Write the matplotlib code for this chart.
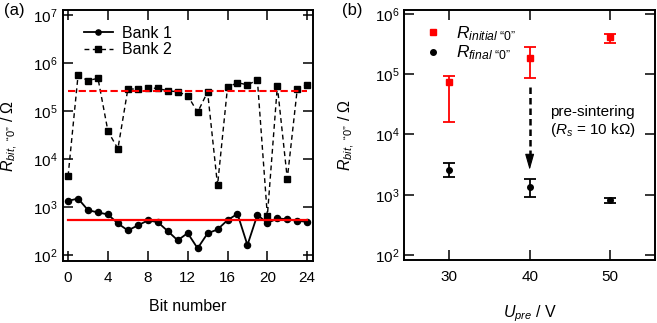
import matplotlib
matplotlib.use("Agg")
import matplotlib.pyplot as plt
import numpy as np
from matplotlib.lines import Line2D
from matplotlib.ticker import LogLocator, NullLocator, FixedLocator

plt.rcParams['font.family'] = ['Liberation Sans', 'DejaVu Sans']
plt.rcParams['mathtext.fontset'] = 'custom'
plt.rcParams['mathtext.rm'] = 'Liberation Sans'
plt.rcParams['mathtext.it'] = 'Liberation Sans:italic'
plt.rcParams['mathtext.bf'] = 'Liberation Sans:bold'

# ---------------- data: panel (a) ----------------
bits = list(range(25))
bank1 = [1340, 1500, 860, 770, 700, 454, 325, 413, 525, 484, 315, 202, 286, 138,
         282, 341, 532, 720, 161, 686, 461, 577, 558, 515, 491]
bank2 = [4400, 5.5e5, 4.3e5, 4.8e5, 3.8e4, 1.63e4, 2.87e5, 2.87e5, 3.05e5, 2.95e5,
         2.65e5, 2.5e5, 2.1e5, 9.4e4, 2.5e5, 2830, 3.1e5, 3.9e5, 3.5e5, 4.4e5,
         655, 3.3e5, 3900, 2.87e5, 3.5e5]
bank1_mean = 540
bank2_mean = 2.56e5

# ---------------- data: panel (b) ----------------
u_pre = [30, 40, 50]
r_init = [7.35e4, 1.84e5, 4.1e5]
r_init_hi = [9.5e4, 2.87e5, 4.65e5]
r_init_lo = [1.63e4, 8.8e4, 3.3e5]
r_final = [2600, 1330, 820]
r_final_hi = [3330, 1820, 880]
r_final_lo = [1950, 910, 740]
arrow_x = 40
arrow_from = 6.2e4
arrow_head_base = 4300
arrow_to = 2580

fig = plt.figure(figsize=(6.57, 3.23), dpi=100)
W, H = 657, 323

def add_ax(l, r, t, b):
    return fig.add_axes([l / W, 1 - b / H, (r - l) / W, (b - t) / H])

ax1 = add_ax(62.7, 313.2, 10, 261)
ax2 = add_ax(404.3, 655, 10, 260)

def style(ax):
    for s in ax.spines.values():
        s.set_linewidth(1.4)
    ax.tick_params(which='major', direction='in', length=7.5, width=1.1,
                   top=True, right=True, labelsize=11)
    ax.tick_params(axis='x', pad=7.5)
    ax.tick_params(axis='y', pad=3.5)
    ax.yaxis.set_minor_locator(NullLocator())
    ax.xaxis.set_minor_locator(NullLocator())

Q0 = '\u201c0\u201d'
ylab = r'$R_{\mathit{bit,\ ' + Q0 + r'}}$ / Ω'

# ---------- panel (a) ----------
ax1.set_yscale('log')
ax1.plot(bits, bank1, '-', color='black', lw=1.3, marker='o', ms=4.4, label='Bank 1')
ax1.plot(bits, bank2, color='black', lw=1.0, ls=(0, (3.5, 2.5)), marker='s', ms=4.6,
         label='Bank 2')
ax1.plot([bits[0], bits[-1]], [bank1_mean, bank1_mean], '-', color='#ff0000', lw=1.6)
ax1.plot([bits[0], bits[-1]], [bank2_mean, bank2_mean], color='#ff0000', lw=1.5,
         ls=(0, (3.5, 1.6)))
ax1.set_xlim(-0.54, 24.6)
ax1.set_ylim(10**1.875, 10**7.104)
ax1.xaxis.set_major_locator(FixedLocator([0, 4, 8, 12, 16, 20, 24]))
ax1.yaxis.set_major_locator(LogLocator(base=10, numticks=10))
style(ax1)
ax1.set_xlabel('Bit number', fontsize=11.5)
ax1.xaxis.set_label_coords(0.5, -0.15)
ax1.set_ylabel(ylab, fontsize=11.5)
ax1.yaxis.set_label_coords(-0.17, 0.5)
leg1 = ax1.legend(loc='upper left', bbox_to_anchor=(0.045, 0.975), frameon=False,
                  fontsize=11.5, handlelength=1.85, handletextpad=0.55,
                  labelspacing=0.1, borderaxespad=0.2, numpoints=1,
                  markerscale=0.85)

# ---------- panel (b) ----------
ax2.set_yscale('log')
yerr_i = [np.array(r_init) - np.array(r_init_lo), np.array(r_init_hi) - np.array(r_init)]
yerr_f = [np.array(r_final) - np.array(r_final_lo), np.array(r_final_hi) - np.array(r_final)]
ax2.errorbar(u_pre, r_init, yerr=yerr_i, fmt='s', color='#ff0000', ms=4.5,
             elinewidth=1.3, capsize=4, capthick=1.3, ls='none')
ax2.errorbar(u_pre, r_final, yerr=yerr_f, fmt='o', color='black', ms=4,
             elinewidth=1.3, capsize=4, capthick=1.3, ls='none')
ax2.plot([arrow_x, arrow_x], [arrow_from, arrow_head_base], color='black', lw=1.8,
         ls=(0, (2.6, 1.6)))
ax2.annotate('', xy=(arrow_x, arrow_to), xytext=(arrow_x, arrow_head_base),
             arrowprops=dict(arrowstyle='-|>,head_length=0.7,head_width=0.2',
                             lw=0.8, color='black',
                             mutation_scale=14, shrinkA=0, shrinkB=0))
ax2.text(42.5, 1.6e4, 'pre-sintering\n($R_s$ = 10 kΩ)', fontsize=11,
         ha='left', va='center', linespacing=1.2)
ax2.set_xlim(24.4, 55.6)
ax2.set_ylim(10**1.917, 10**6.066)
ax2.xaxis.set_major_locator(FixedLocator([30, 40, 50]))
ax2.yaxis.set_major_locator(LogLocator(base=10, numticks=10))
style(ax2)
ax2.set_xlabel(r'$U_{\mathit{pre}}$ / V', fontsize=11.5)
ax2.xaxis.set_label_coords(0.5, -0.175)
ax2.set_ylabel(ylab, fontsize=11.5)
ax2.yaxis.set_label_coords(-0.19, 0.5)
handles = [Line2D([], [], ls='none', marker='s', color='#ff0000', ms=4.5),
           Line2D([], [], ls='none', marker='o', color='black', ms=4)]
labels = [r'$R_{\mathit{initial}\ ' + Q0 + '}$', r'$R_{\mathit{final}\ ' + Q0 + '}$']
ax2.legend(handles, labels, loc='upper left', bbox_to_anchor=(0.04, 0.985),
           frameon=False, fontsize=12.5, handlelength=1.0, handletextpad=0.8,
           labelspacing=0.05, borderaxespad=0.2)

fig.text(4 / W, 1 - 11 / H, '(a)', fontsize=12, ha='left', va='center')
fig.text(342 / W, 1 - 11 / H, '(b)', fontsize=12, ha='left', va='center')

fig.savefig('out.png', dpi=100)
